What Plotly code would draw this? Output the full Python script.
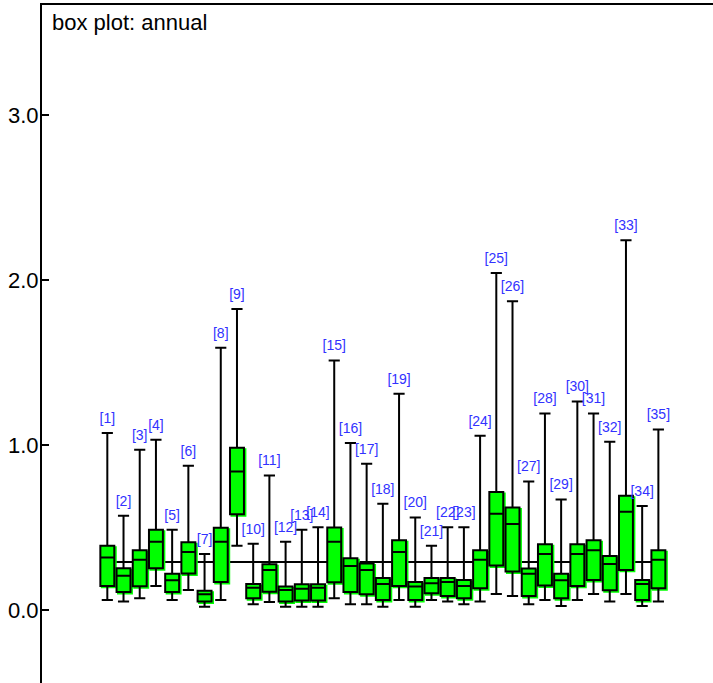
import plotly.graph_objects as go

labels = [f"[{i}]" for i in range(1, 36)]
positions = list(range(1, 36))
lower = [0.061,0.051,0.071,0.146,0.061,0.121,0.020,0.061,0.390,0.034,0.049,0.020,0.020,0.020,0.071,0.034,0.034,0.020,0.061,0.020,0.061,0.051,0.034,0.051,0.097,0.085,0.034,0.061,0.024,0.061,0.097,0.051,0.097,0.024,0.051]
q1 = [0.146,0.109,0.144,0.253,0.109,0.221,0.051,0.170,0.581,0.071,0.111,0.051,0.057,0.057,0.168,0.109,0.095,0.061,0.146,0.061,0.101,0.085,0.071,0.132,0.269,0.233,0.085,0.148,0.071,0.146,0.182,0.119,0.243,0.061,0.132]
median = [0.318,0.208,0.304,0.413,0.180,0.352,0.095,0.413,0.840,0.135,0.243,0.121,0.128,0.135,0.413,0.267,0.243,0.158,0.352,0.142,0.162,0.170,0.146,0.304,0.583,0.522,0.219,0.340,0.180,0.340,0.362,0.279,0.595,0.158,0.304]
q3 = [0.390,0.253,0.362,0.486,0.219,0.411,0.117,0.498,0.984,0.158,0.277,0.142,0.156,0.156,0.500,0.314,0.281,0.194,0.423,0.170,0.194,0.194,0.182,0.362,0.716,0.621,0.251,0.399,0.219,0.399,0.423,0.328,0.692,0.182,0.362]
upper = [1.073,0.571,0.971,1.032,0.486,0.874,0.340,1.590,1.826,0.401,0.816,0.413,0.486,0.502,1.513,1.012,0.886,0.644,1.311,0.561,0.390,0.502,0.502,1.056,2.044,1.872,0.779,1.192,0.670,1.265,1.192,1.020,2.242,0.631,1.095]
overall_mean = 0.291
y_ticks = [0.0, 1.0, 2.0, 3.0]
title_text = "box plot: annual"

GREEN = "#00ff00"
BLUE = "#3232ff"
BOX_W = 0.86
FONT = "Liberation Sans, Arial, sans-serif"

fig = go.Figure()

# green "shadow" slightly offset right/down
dx = 0.09
dy = 0.009
fig.add_trace(go.Box(
    x=[p + dx for p in positions],
    q1=[v - dy for v in q1], median=[v - dy for v in q1], q3=[v - dy for v in q3],
    lowerfence=[v - dy for v in q1], upperfence=[v - dy for v in q3],
    width=BOX_W, fillcolor=GREEN, line=dict(color=GREEN, width=2),
    whiskerwidth=0, boxpoints=False, hoverinfo="skip", showlegend=False,
))

fig.add_trace(go.Box(
    x=positions, q1=q1, median=median, q3=q3,
    lowerfence=lower, upperfence=upper,
    width=BOX_W, fillcolor=GREEN, line=dict(color="black", width=2),
    whiskerwidth=0.8, boxpoints=False, showlegend=False,
))

fig.add_trace(go.Scatter(
    x=positions, y=[u + 0.082 for u in upper], mode="text", text=labels,
    textposition="middle center",
    textfont=dict(family=FONT, size=14, color=BLUE),
    hoverinfo="skip", showlegend=False,
))

fig.add_shape(type="line", layer="below",
              x0=positions[0] - BOX_W / 2, x1=positions[-1] + BOX_W / 2,
              y0=overall_mean, y1=overall_mean,
              line=dict(color="black", width=2))

fig.add_annotation(text=title_text, xref="paper", yref="paper",
                   x=0.0119, y=0.996, xanchor="left", yanchor="top",
                   showarrow=False,
                   font=dict(family=FONT, size=22, color="black"))

fig.update_layout(
    width=713, height=683,
    margin=dict(l=42, r=0, t=5, b=0, pad=0),
    plot_bgcolor="white", paper_bgcolor="white",
    boxmode="overlay",
    xaxis=dict(range=[-3.03, 38.37], side="top", showline=True, linecolor="black",
               linewidth=1.5, showticklabels=False, ticks="", showgrid=False,
               zeroline=False),
    yaxis=dict(range=[-0.443, 3.669], tickvals=y_ticks, tickformat=".1f",
               showline=True, linecolor="black", linewidth=2,
               ticks="inside", ticklen=7, tickwidth=2, tickcolor="black",
               ticklabelstandoff=-3,
               showgrid=False, zeroline=False,
               tickfont=dict(family=FONT, size=22, color="black")),
    font=dict(family=FONT),
)

fig.write_html("out.html", config={"displayModeBar": False},
               post_script="document.body.style.margin='0';document.body.style.overflow='hidden';")
